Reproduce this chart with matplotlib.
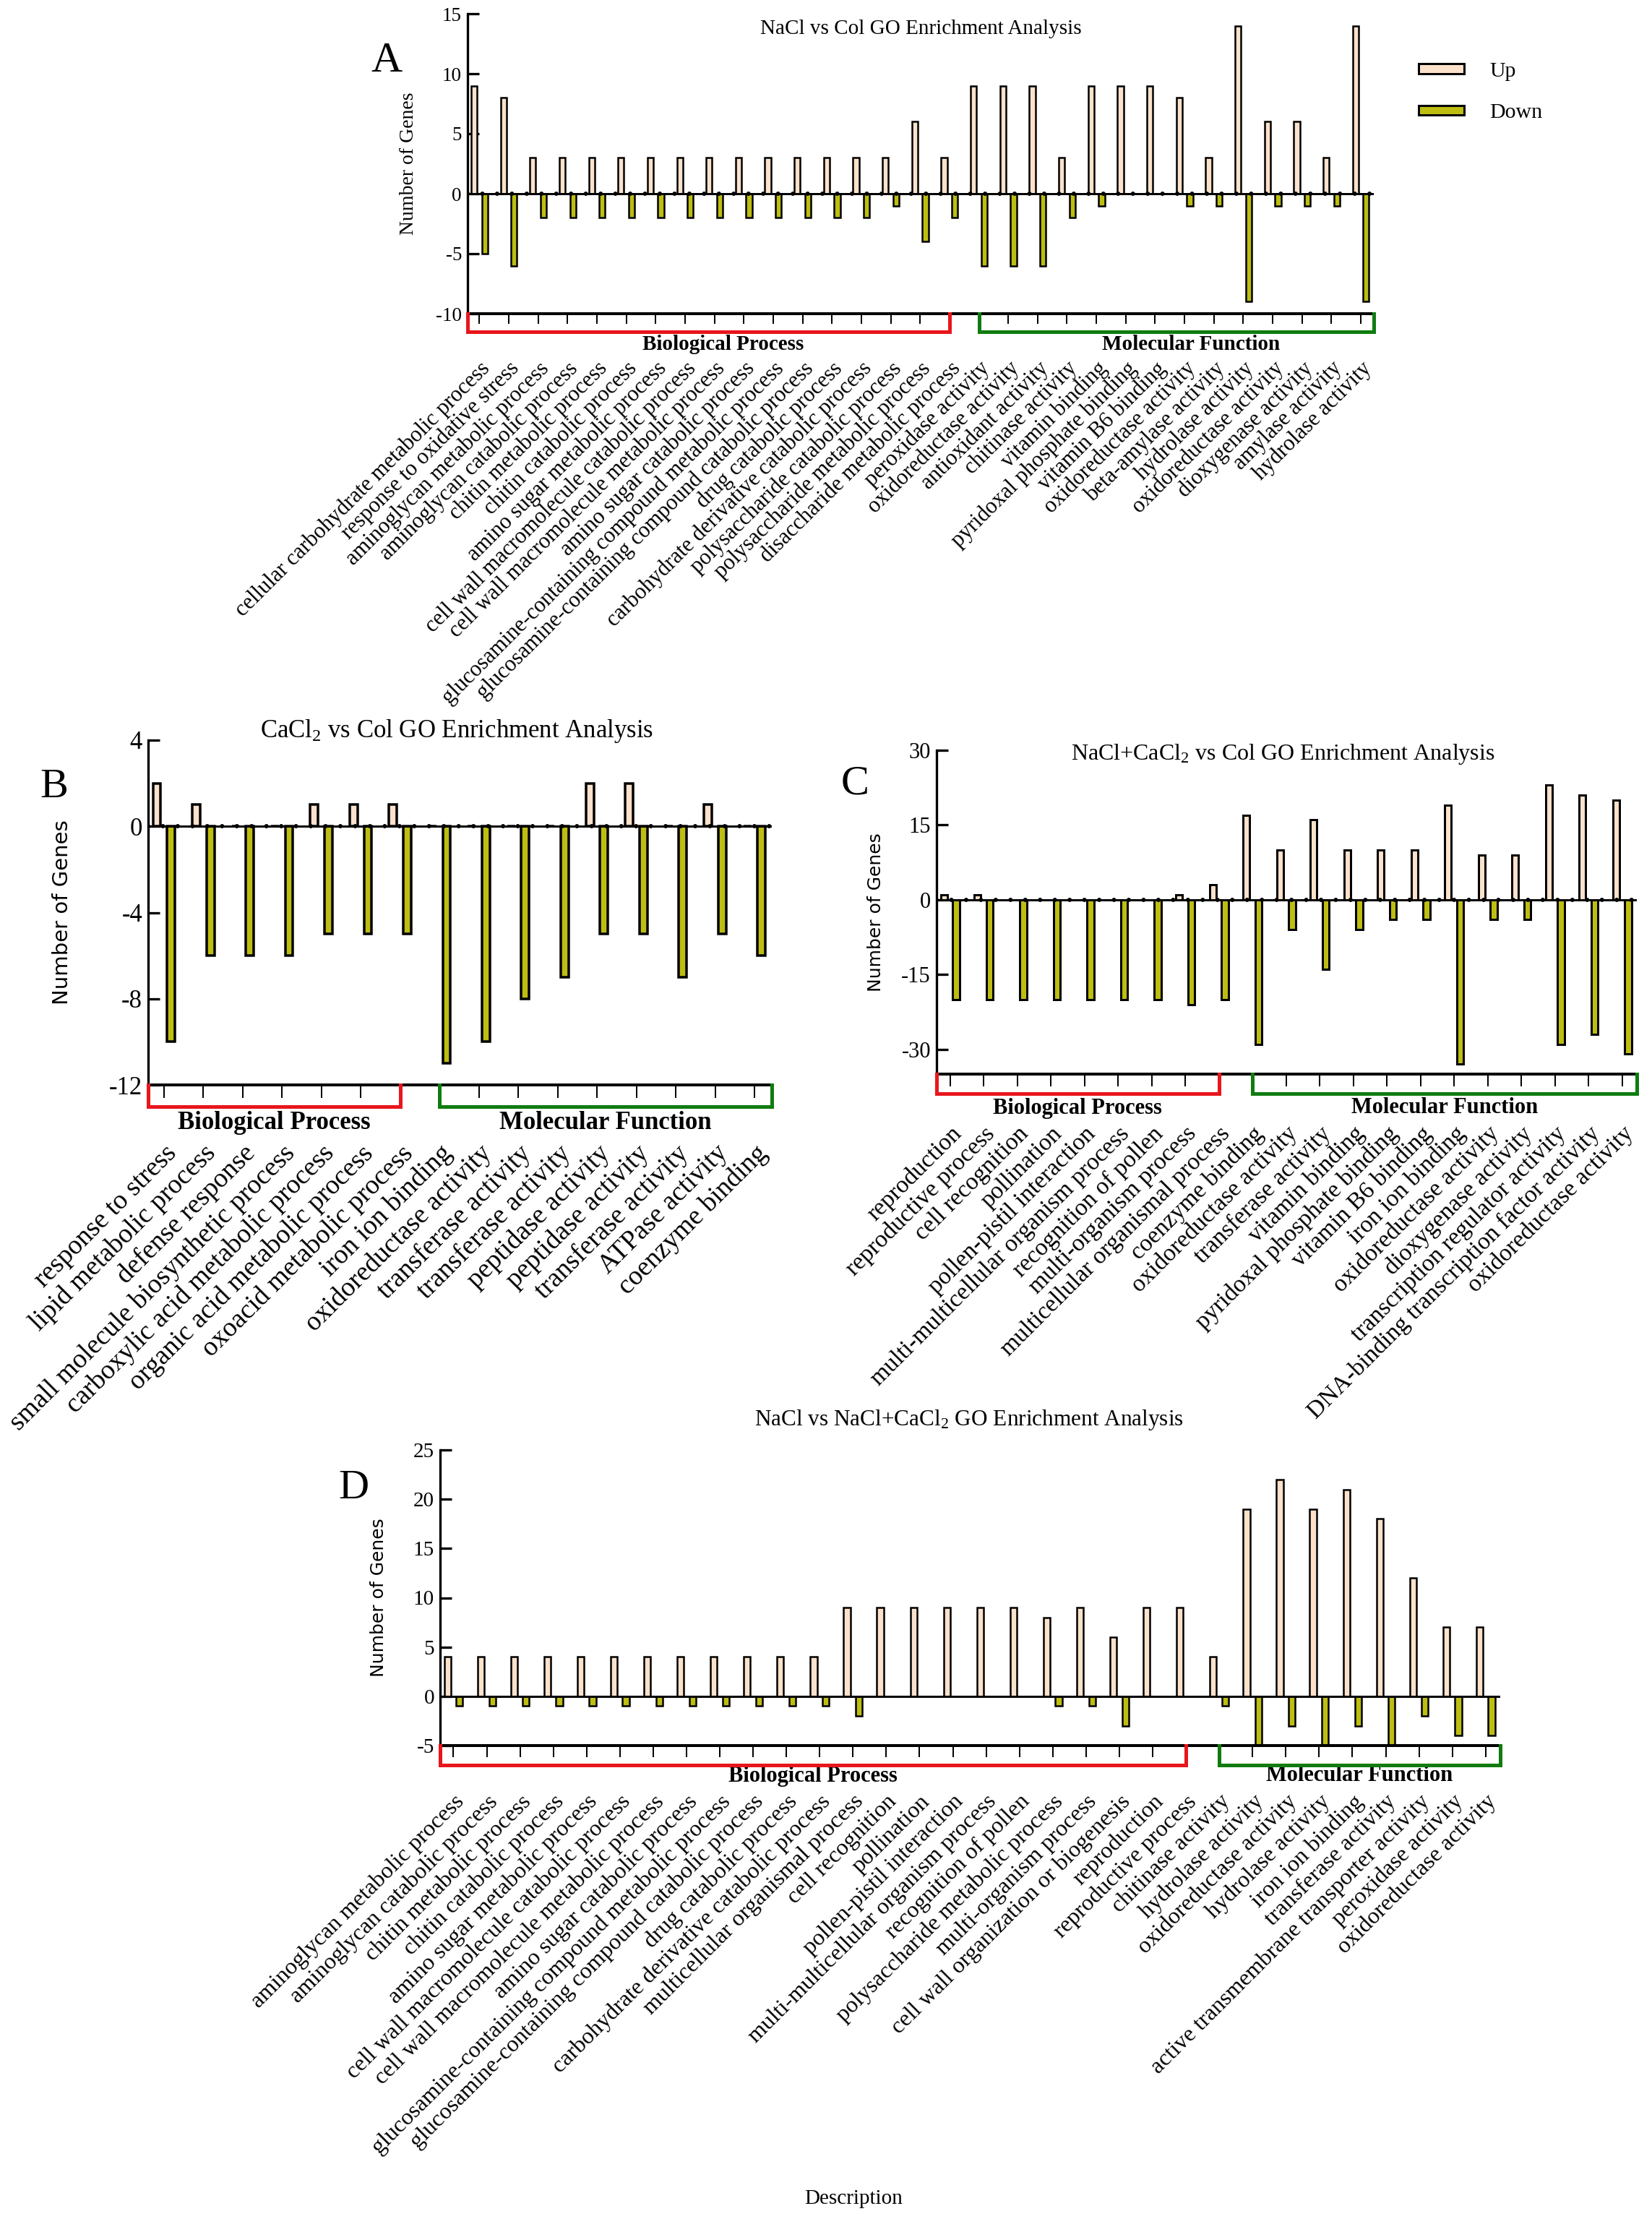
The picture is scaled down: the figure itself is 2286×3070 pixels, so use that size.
import numpy as np
import matplotlib.pyplot as plt
from matplotlib.patches import Patch
from matplotlib.transforms import blended_transform_factory

plt.rcParams['font.family'] = ['Liberation Serif', 'DejaVu Serif']
plt.rcParams['mathtext.fontset'] = 'custom'
plt.rcParams['mathtext.rm'] = 'Liberation Serif'
plt.rcParams['mathtext.it'] = 'Liberation Serif:italic'
plt.rcParams['mathtext.bf'] = 'Liberation Serif:bold'

W, H = 2286, 3070
UP_COLOR = '#FCE1CB'
DOWN_COLOR = '#BDBD12'
BP_COLOR = '#E8161C'
MF_COLOR = '#107C10'

# ---- Panel A: NaCl vs Col ----
a_bp_terms = [
    "cellular carbohydrate metabolic process", "response to oxidative stress",
    "aminoglycan metabolic process", "aminoglycan catabolic process",
    "chitin metabolic process", "chitin catabolic process",
    "amino sugar metabolic process", "cell wall macromolecule catabolic process",
    "cell wall macromolecule metabolic process", "amino sugar catabolic process",
    "glucosamine-containing compound metabolic process",
    "glucosamine-containing compound catabolic process",
    "drug catabolic process", "carbohydrate derivative catabolic process",
    "polysaccharide catabolic process", "polysaccharide metabolic process",
    "disaccharide metabolic process",
]
a_mf_terms = [
    "peroxidase activity", "oxidoreductase activity", "antioxidant activity",
    "chitinase activity", "vitamin binding", "pyridoxal phosphate binding",
    "vitamin B6 binding", "oxidoreductase activity", "beta-amylase activity",
    "hydrolase activity", "oxidoreductase activity", "dioxygenase activity",
    "amylase activity", "hydrolase activity",
]
a_up = [9, 8, 3, 3, 3, 3, 3, 3, 3, 3, 3, 3, 3, 3, 3, 6, 3,
        9, 9, 9, 3, 9, 9, 9, 8, 3, 14, 6, 6, 3, 14]
a_down = [-5, -6, -2, -2, -2, -2, -2, -2, -2, -2, -2, -2, -2, -2, -1, -4, -2,
          -6, -6, -6, -2, -1, 0, 0, -1, -1, -9, -1, -1, -1, -9]

# ---- Panel B: CaCl2 vs Col ----
b_bp_terms = [
    "response to stress", "lipid metabolic process", "defense response",
    "small molecule biosynthetic process", "carboxylic acid metabolic process",
    "organic acid metabolic process", "oxoacid metabolic process",
]
b_mf_terms = [
    "iron ion binding", "oxidoreductase activity", "transferase activity",
    "transferase activity", "peptidase activity", "peptidase activity",
    "transferase activity", "ATPase activity", "coenzyme binding",
]
b_up = [2, 1, 0, 0, 1, 1, 1, 0, 0, 0, 0, 2, 2, 0, 1, 0]
b_down = [-10, -6, -6, -6, -5, -5, -5, -11, -10, -8, -7, -5, -5, -7, -5, -6]

# ---- Panel C: NaCl+CaCl2 vs Col ----
c_bp_terms = [
    "reproduction", "reproductive process", "cell recognition", "pollination",
    "pollen-pistil interaction", "multi-multicellular organism process",
    "recognition of pollen", "multi-organism process",
    "multicellular organismal process",
]
c_mf_terms = [
    "coenzyme binding", "oxidoreductase activity", "transferase activity",
    "vitamin binding", "pyridoxal phosphate binding", "vitamin B6 binding",
    "iron ion binding", "oxidoreductase activity", "dioxygenase activity",
    "transcription regulator activity",
    "DNA-binding transcription factor activity", "oxidoreductase activity",
]
c_up = [1, 1, 0, 0, 0, 0, 0, 1, 3, 17, 10, 16, 10, 10, 10, 19, 9, 9, 23, 21, 20]
c_down = [-20, -20, -20, -20, -20, -20, -20, -21, -20,
          -29, -6, -14, -6, -4, -4, -33, -4, -4, -29, -27, -31]

# ---- Panel D: NaCl vs NaCl+CaCl2 ----
d_bp_terms = [
    "aminoglycan metabolic process", "aminoglycan catabolic process",
    "chitin metabolic process", "chitin catabolic process",
    "amino sugar metabolic process", "cell wall macromolecule catabolic process",
    "cell wall macromolecule metabolic process", "amino sugar catabolic process",
    "glucosamine-containing compound metabolic process",
    "glucosamine-containing compound catabolic process",
    "drug catabolic process", "carbohydrate derivative catabolic process",
    "multicellular organismal process", "cell recognition", "pollination",
    "pollen-pistil interaction", "multi-multicellular organism process",
    "recognition of pollen", "polysaccharide metabolic process",
    "multi-organism process", "cell wall organization or biogenesis",
    "reproduction", "reproductive process",
]
d_mf_terms = [
    "chitinase activity", "hydrolase activity", "oxidoreductase activity",
    "hydrolase activity", "iron ion binding", "transferase activity",
    "active transmembrane transporter activity", "peroxidase activity",
    "oxidoreductase activity",
]
d_up = [4, 4, 4, 4, 4, 4, 4, 4, 4, 4, 4, 4, 9, 9, 9, 9, 9, 9, 8, 9, 6, 9, 9,
        4, 19, 22, 19, 21, 18, 12, 7, 7]
d_down = [-1, -1, -1, -1, -1, -1, -1, -1, -1, -1, -1, -1, -2, 0, 0, 0, 0, 0,
          -1, -1, -3, 0, 0, -1, -5, -3, -5, -3, -5, -2, -4, -4]


def px(v):
    return v * 72 / 100.0


def draw_panel(fig, box, bp_terms, mf_terms, up, down, ylim, yticks, st):
    l, t, r, b = box
    ax = fig.add_axes([l / W, 1 - b / H, (r - l) / W, (b - t) / H])
    ax_h = b - t
    terms = bp_terms + mf_terms
    n = len(terms)
    n_bp = len(bp_terms)
    x = np.arange(n)
    w = 0.2
    ax.bar(x - 0.18, up, w, color=UP_COLOR, edgecolor='black',
           linewidth=st['edge'], zorder=2)
    ax.bar(x + 0.18, down, w, color=DOWN_COLOR, edgecolor='black',
           linewidth=st['edge'], zorder=2)
    ax.axhline(0, color='black', lw=px(3), zorder=3)
    if st['dots']:
        ax.axhline(0, color='black', lw=px(6), ls=(0, (0.01, 3.4)),
                   dash_capstyle='round', zorder=3)
    xlim = (-0.4, n - 0.56)
    ax.set_xlim(*xlim)
    ax.set_ylim(*ylim)
    ax.set_yticks(yticks)
    ax.set_yticklabels([str(v) for v in yticks])
    for s in ['top', 'right']:
        ax.spines[s].set_visible(False)
    ax.spines['left'].set_linewidth(px(3.3))
    ax.spines['bottom'].set_linewidth(px(4))
    ax.tick_params(axis='y', direction='in', length=px(16), width=px(3.3),
                   labelsize=st['ytick'], pad=px(8))
    ax.set_xticks(x)
    ax.set_xticklabels(terms, rotation=45, ha='right', va='top',
                       rotation_mode='anchor', fontsize=st['xtick'])
    ax.tick_params(axis='x', direction='out', length=px(st['tlen']),
                   width=px(2), pad=px(st['pad']))

    # brackets for the two GO groups
    tr = blended_transform_factory(ax.transData, ax.transAxes)
    d = st['depth'] / ax_h
    groups = [(xlim[0], n_bp - 1, BP_COLOR, 'Biological Process'),
              (n_bp, xlim[1], MF_COLOR, 'Molecular Function')]
    for x0, x1, col, name in groups:
        ax.plot([x0, x0, x1, x1], [0, -d, -d, 0], color=col, lw=px(5),
                transform=tr, clip_on=False, solid_joinstyle='miter', zorder=4)
        ax.text((x0 + x1) / 2 + st.get('gshift', 0), -st['goff'] / ax_h, name,
                transform=tr, ha='center', va='center', fontweight='bold',
                fontsize=st['group'])

    ax.set_ylabel('Number of Genes', fontsize=st['ylab'],
                  family=st['yfam'])
    ax.yaxis.set_label_coords(st['ylx'], 0.5)
    return ax


fig = plt.figure(figsize=(W / 100, H / 100), dpi=100)

# Panel A
ax_a = draw_panel(fig, (647, 19, 1901, 434), a_bp_terms, a_mf_terms, a_up, a_down,
                  (-10, 15), [-10, -5, 0, 5, 10, 15],
                  dict(edge=px(2.5), dots=True, ytick=19.5, xtick=22, tlen=14,
                       pad=47, depth=25, goff=43, group=21, ylab=20,
                       yfam=['Liberation Serif'], ylx=-0.055, gshift=0.5))
fig.text(1274 / W, 1 - 40 / H, 'NaCl vs Col GO Enrichment Analysis',
         ha='center', va='center', fontsize=21)
fig.text(535 / W, 1 - 85 / H, 'A', ha='center', va='center', fontsize=43)
handles = [Patch(facecolor=UP_COLOR, edgecolor='black', lw=px(3), label='Up'),
           Patch(facecolor=DOWN_COLOR, edgecolor='black', lw=px(3), label='Down')]
fig.legend(handles=handles, loc='upper left', bbox_to_anchor=(1963 / W, 1 - 86 / H),
           frameon=False, fontsize=21.5, handlelength=2.1, handleheight=0.33,
           handletextpad=1.2, labelspacing=1.05, borderpad=0, borderaxespad=0)

# Panel B
draw_panel(fig, (205, 1024, 1068, 1501), b_bp_terms, b_mf_terms, b_up, b_down,
           (-12, 4), [-12, -8, -4, 0, 4],
           dict(edge=px(3.5), dots=True, ytick=25, xtick=27, tlen=18,
                pad=59, depth=30, goff=53, group=25, ylab=21,
                yfam=['DejaVu Sans'], ylx=-0.122))
fig.text(632 / W, 1 - 1012 / H, 'CaCl$_2$ vs Col GO Enrichment Analysis',
         ha='center', va='center', fontsize=25)
fig.text(75 / W, 1 - 1089 / H, 'B', ha='center', va='center', fontsize=42)

# Panel C
draw_panel(fig, (1296, 1038, 2265, 1486), c_bp_terms, c_mf_terms, c_up, c_down,
           (-35, 30), [-30, -15, 0, 15, 30],
           dict(edge=px(3), dots=True, ytick=22, xtick=24, tlen=17,
                pad=50, depth=27, goff=47, group=22, ylab=18,
                yfam=['DejaVu Sans'], ylx=-0.074))
fig.text(1775 / W, 1 - 1043 / H, 'NaCl+CaCl$_2$ vs Col GO Enrichment Analysis',
         ha='center', va='center', fontsize=23)
fig.text(1183 / W, 1 - 1085 / H, 'C', ha='center', va='center', fontsize=42)

# Panel D
draw_panel(fig, (609, 2006, 2076, 2415), d_bp_terms, d_mf_terms, d_up, d_down,
           (-5, 25), [-5, 0, 5, 10, 15, 20, 25],
           dict(edge=px(2.5), dots=False, ytick=21, xtick=23, tlen=16,
                pad=47, depth=27, goff=42, group=22, ylab=18,
                yfam=['DejaVu Sans'], ylx=-0.05))
fig.text(1341 / W, 1 - 1965 / H, 'NaCl vs NaCl+CaCl$_2$ GO Enrichment Analysis',
         ha='center', va='center', fontsize=22.5)
fig.text(489 / W, 1 - 2059 / H, 'D', ha='center', va='center', fontsize=42)
fig.text(1181 / W, 1 - 3042 / H, 'Description', ha='center', va='center',
         fontsize=21)

fig.savefig('out.png', dpi=100)
